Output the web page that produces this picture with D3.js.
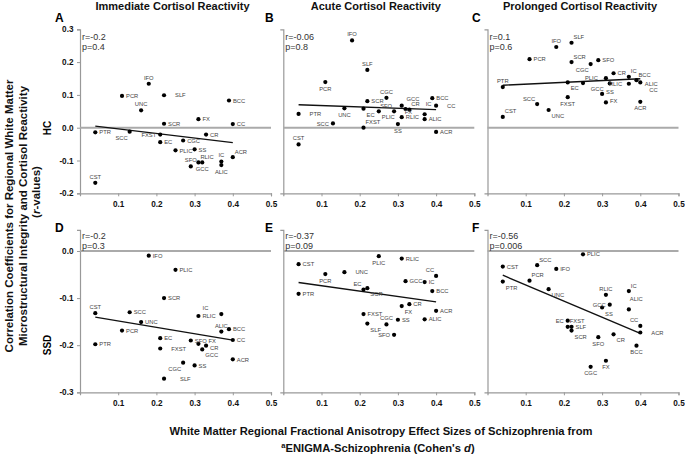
<!DOCTYPE html>
<html><head><meta charset="utf-8">
<script src="https://cdn.jsdelivr.net/npm/d3@7"></script>
<style>
body{margin:0;background:#fff;}
svg{display:block;font-family:"Liberation Sans",Arial,Helvetica,sans-serif;}
</style></head><body>
<svg id="chart" width="685" height="456"></svg>
<script>
// ---------------- DATA ----------------
const regions = ["ACR","ALIC","BCC","CC","CGC","CR","CST","EC","FX","FXST","GCC","IC","IFO","PCR","PLIC","PTR","RLIC","SCC","SCR","SFO","SLF","SS","UNC"];
const effectSizes = [0.40,0.37,0.39,0.40,0.27,0.33,0.04,0.21,0.31,0.21,0.32,0.37,0.18,0.11,0.25,0.04,0.31,0.13,0.22,0.29,0.22,0.30,0.16];
const hcImmediate = [-0.090,-0.114,0.083,0.011,-0.039,-0.021,-0.168,-0.044,0.026,-0.021,-0.106,-0.103,0.134,0.097,-0.069,-0.014,-0.106,-0.012,0.012,-0.118,0.099,-0.066,0.053];
const hcAcute = [-0.013,0.026,0.090,0.067,0.091,0.055,-0.051,0.058,0.067,0.000,0.057,0.041,0.266,0.139,0.050,0.042,0.032,0.013,0.081,0.050,0.176,0.011,0.059];
const hcProlonged = [0.079,0.134,0.145,0.138,0.194,0.166,0.033,0.138,0.077,0.093,0.135,0.155,0.246,0.209,0.136,0.124,0.151,0.072,0.200,0.206,0.259,0.103,0.054];
const ssdImmediate = [-0.230,-0.171,-0.166,-0.189,-0.237,-0.201,-0.132,-0.185,-0.197,-0.207,-0.209,-0.134,-0.010,-0.169,-0.040,-0.198,-0.138,-0.130,-0.100,-0.190,-0.271,-0.243,-0.151];
const ssdAcute = [-0.127,-0.145,-0.085,-0.053,-0.156,-0.113,-0.028,-0.082,-0.117,-0.134,-0.064,-0.066,null,-0.049,-0.011,-0.091,-0.016,null,-0.079,-0.178,-0.154,-0.146,-0.045];
const ssdProlonged = [-0.173,-0.124,-0.201,-0.159,-0.246,-0.177,-0.033,-0.148,-0.233,-0.161,-0.114,-0.085,-0.038,-0.063,-0.007,-0.065,-0.093,-0.030,-0.169,-0.183,-0.161,-0.120,-0.081];
const rTexts = ["r=-0.2","r=-0.06","r=0.1","r=-0.2","r=-0.37","r=-0.56"];
const pTexts = ["p=0.4","p=0.8","p=0.6","p=0.3","p=0.09","p=0.006"];
const columnTitles = ["Immediate Cortisol Reactivity","Acute Cortisol Reactivity","Prolonged Cortisol Reactivity"];
const rowLabels = ["HC","SSD"];
const panelLetters = ["A","B","C","D","E","F"];
const xTicks = [0.1,0.2,0.3,0.4,0.5];
const yTicksHC = [0.3,0.2,0.1,0.0,-0.1,-0.2];
const yTicksSSD = [0.0,-0.1,-0.2,-0.3];
const yTitleLines = ["Correlation Coefficients for Regional White Matter","Microstructural Integrity and Cortisol Reactivity"];
const xTitleLine1 = "White Matter Regional Fractional Anisotropy Effect Sizes of Schizophrenia from";

// ---------------- LAYOUT (label placement codes, region order) ----------------
const labelCodes = [
  "ar b r r r r a r r l b a a r r r ar bl r a R r a",
  "r r r R a ar a br br ar A A a b br R r l r al a b b",
  "b RR ar BR bl r ar br r0 b bL ar a r ar a br al ar r ar r0 br",
  "r a r r bl rb a r Ra R br AL r r r r r r r r RR r r",
  "r r r al a r r al br r r r - b b r r - br l br r R",
  "R A b al b br r l b ar l ar r ar r br a ar br b r br br"
].map(s => s.split(" "));
const OFF = {r:['start',4,2.2], r0:['start',4,0.5], rb:['start',4,4.5], R:['start',11,2.2], Ra:['start',10,-1],
  RR:['start',16,2.2], l:['end',-4,2.2],
  a:['middle',0,-4], A:['start',1,-8], b:['middle',0,8.5], ar:['start',2,-3.5],
  br:['start',3,8], BR:['start',9,9.5], al:['end',-2,-3.5], bl:['end',-2,8], bL:['end',-6,7.5], AL:['end',-13,-4]};

const seriesList = [hcImmediate,hcAcute,hcProlonged,ssdImmediate,ssdAcute,ssdProlonged];
const colX0 = [80, 283.3, 487.5];
const xWidth = 191;
const rowCfg = [
  {domain:[-0.2,0.3], range:[193.3,29.3], ticks:yTicksHC, rBase:39.5, pBase:50, letterBase:22},
  {domain:[-0.3,0.045], range:[392.3,229.8], ticks:yTicksSSD, rBase:238.5, pBase:249, letterBase:232}
];
const letterX = [55, 265, 472];

const svg = d3.select("#chart");
const fmt = d => d3.format(".1f")(d).replace("\u2212","-");
const axisColor = "#999";

seriesList.forEach((vals, i) => {
  const row = Math.floor(i/3), col = i%3;
  const rc = rowCfg[row];
  const x = d3.scaleLinear().domain([0,0.5]).range([colX0[col], colX0[col]+xWidth]);
  const y = d3.scaleLinear().domain(rc.domain).range(rc.range);
  const g = svg.append("g");

  // y axis
  const yAx = d3.axisLeft(y).tickSizeOuter(0).tickSize(3).tickPadding(3.5);
  if (col === 0) yAx.tickValues(rc.ticks).tickFormat(fmt); else yAx.tickValues([]);
  const yg = g.append("g").attr("transform",`translate(${x(0)},0)`).call(yAx);
  yg.select(".domain").attr("stroke",axisColor).attr("stroke-width",1.2);
  yg.selectAll(".tick line").attr("stroke",axisColor);
  yg.selectAll(".tick text").attr("font-size",8.2).attr("font-weight","bold").attr("fill","#111");

  // x axis
  const xAx = d3.axisBottom(x).tickValues(xTicks).tickFormat(fmt).tickSizeOuter(0).tickSize(3).tickPadding(4.5);
  const xg = g.append("g").attr("transform",`translate(0,${y(rc.domain[0])})`).call(xAx);
  xg.select(".domain").attr("stroke",axisColor).attr("stroke-width",1.2);
  xg.selectAll(".tick line").attr("stroke",axisColor);
  xg.selectAll(".tick text").attr("font-size",8.2).attr("font-weight","bold").attr("fill","#111");

  // zero reference line
  g.append("line").attr("x1",x(0)).attr("x2",x(0.5)).attr("y1",y(0)).attr("y2",y(0))
    .attr("stroke","#aaa").attr("stroke-width",2);

  // points
  const pts = regions.map((name,k)=>({name, x:effectSizes[k], y:vals[k], code:labelCodes[i][k]}))
    .filter(d => d.y !== null);

  // regression (least squares from the data)
  const mx = d3.mean(pts,d=>d.x), my = d3.mean(pts,d=>d.y);
  const sxy = d3.sum(pts,d=>(d.x-mx)*(d.y-my)), sxx = d3.sum(pts,d=>(d.x-mx)**2);
  const slope = sxy/sxx, icpt = my - slope*mx;
  const [xmin,xmax] = d3.extent(pts,d=>d.x);
  g.append("line").attr("x1",x(xmin)).attr("x2",x(xmax))
    .attr("y1",y(icpt+slope*xmin)).attr("y2",y(icpt+slope*xmax))
    .attr("stroke","#111").attr("stroke-width",1.4);

  g.selectAll("circle.pt").data(pts).join("circle").attr("class","pt")
    .attr("cx",d=>x(d.x)).attr("cy",d=>y(d.y)).attr("r",2.1).attr("fill","#000");

  g.selectAll("text.lbl").data(pts).join("text").attr("class","lbl")
    .each(function(d){
      const o = OFF[d.code] || OFF.r;
      d3.select(this).attr("x",x(d.x)+o[1]).attr("y",y(d.y)+o[2]).attr("text-anchor",o[0]);
    })
    .attr("font-size",5.8).attr("fill","#444").text(d=>d.name);

  // r / p
  g.append("text").attr("x",x(0)+2).attr("y",rc.rBase).attr("font-size",9).attr("fill","#333").text(rTexts[i]);
  g.append("text").attr("x",x(0)+2).attr("y",rc.pBase).attr("font-size",9).attr("fill","#333").text(pTexts[i]);

  // panel letter
  g.append("text").attr("x",letterX[col]).attr("y",rc.letterBase).attr("font-size",12).attr("font-weight","bold").text(panelLetters[i]);

  if (row === 0) {
    g.append("text").attr("x",x(0.25)-3).attr("y",10).attr("text-anchor","middle")
      .attr("font-size",11).attr("font-weight","bold").attr("fill","#111").text(columnTitles[col]);
  }
});

// row labels
[128, 345].forEach((cy,r)=>{
  svg.append("text").attr("transform",`translate(47.5,${cy}) rotate(-90)`).attr("text-anchor","middle")
    .attr("dominant-baseline","central").attr("font-size",10).attr("font-weight","bold").text(rowLabels[r]);
});

// y title
const yT = [[9,yTitleLines[0]],[22.5,yTitleLines[1]]];
yT.forEach(([cx,t])=>{
  svg.append("text").attr("transform",`translate(${cx},216) rotate(-90)`).attr("text-anchor","middle")
    .attr("dominant-baseline","central").attr("font-size",11.5).attr("font-weight","bold").attr("fill","#111").text(t);
});
const t3 = svg.append("text").attr("transform",`translate(36,192) rotate(-90)`).attr("text-anchor","middle")
  .attr("dominant-baseline","central").attr("font-size",11.5).attr("font-weight","bold").attr("fill","#111");
t3.append("tspan").text("(");
t3.append("tspan").attr("font-style","italic").text("r");
t3.append("tspan").text("-values)");

// x title
svg.append("text").attr("x",381).attr("y",435).attr("text-anchor","middle")
  .attr("font-size",11.2).attr("font-weight","bold").attr("fill","#111").text(xTitleLine1);
const xt2 = svg.append("text").attr("x",378).attr("y",451.5).attr("text-anchor","middle")
  .attr("font-size",11.2).attr("font-weight","bold").attr("fill","#111");
xt2.append("tspan").attr("font-size",7.5).attr("dy",-4).text("a");
xt2.append("tspan").attr("dy",4).text("ENIGMA-Schizophrenia (Cohen's ");
xt2.append("tspan").attr("font-style","italic").text("d");
xt2.append("tspan").text(")");
</script>
</body></html>
